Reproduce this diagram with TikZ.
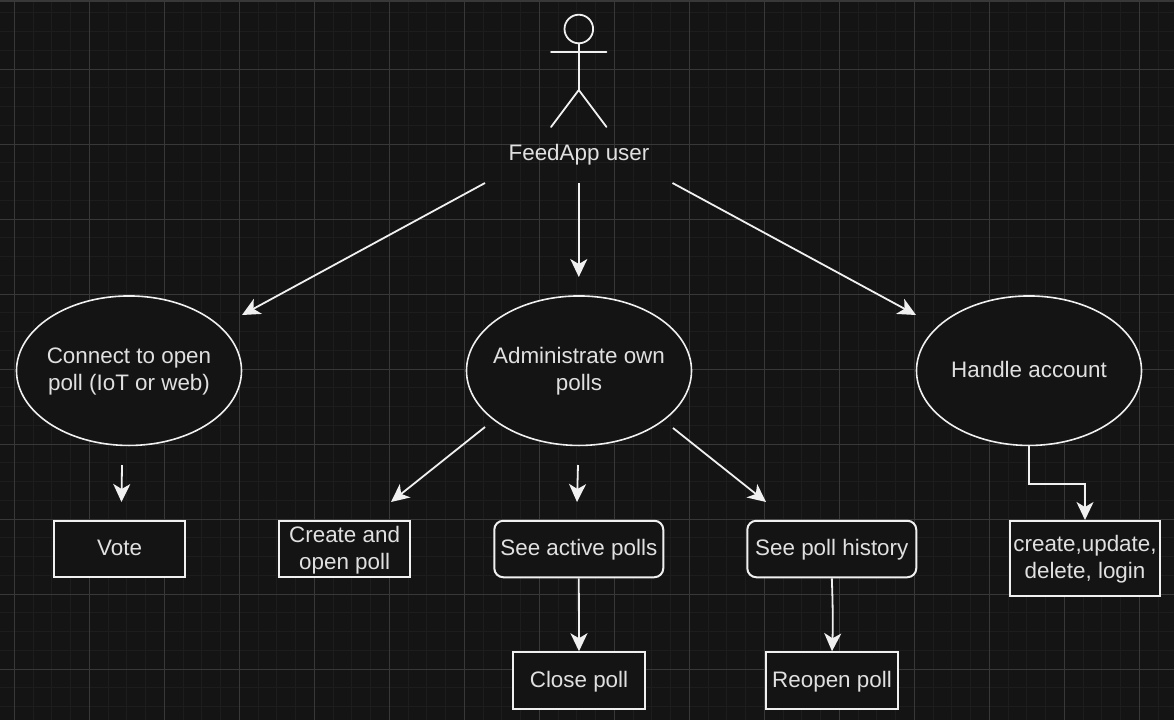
\documentclass[tikz,border=0pt]{standalone}
\usepackage{fontspec}
\setmainfont{Liberation Sans}
\usetikzlibrary{arrows.meta,shapes.geometric}
\definecolor{bgc}{HTML}{141414}
\definecolor{minorc}{HTML}{1D1D1D}
\definecolor{majorc}{HTML}{383838}
\definecolor{linec}{HTML}{F0F0F0}
\definecolor{txtc}{HTML}{E0E0E0}
\newcommand\ls{\rule[-7pt]{0pt}{27pt}}
\tikzset{
  shapeline/.style={draw=linec,line width=2pt,fill=bgc,text=txtc,align=center,inner sep=0pt,font=\fontsize{22.4}{27}\selectfont},
  oval/.style={shapeline,ellipse,line width=1.6pt,inner sep=-25pt,minimum width=225pt,minimum height=149.5pt},
  sqbox/.style={shapeline,rectangle,minimum width=131.6pt,minimum height=56.5pt},
  rbox/.style={shapeline,rectangle,rounded corners=9pt,minimum width=169pt,minimum height=56.5pt},
  conn/.style={draw=linec,line width=1.8pt,-{Stealth[length=18pt,width=17pt,inset=5pt]}},
  stick/.style={draw=linec,line width=1.8pt,line cap=round}
}
\begin{document}
\begin{tikzpicture}[x=1pt,y=-1pt]
\useasboundingbox (0,0) rectangle (1174,720);
\fill[bgc] (0,0) rectangle (1174,720);
\fill[majorc] (0,0) rectangle (1174,1.5);
\foreach \k in {0,...,62}{
  \draw[minorc,line width=0.9pt] ({14.4+18.75*\k},2) -- ({14.4+18.75*\k},720);
}
\foreach \k in {0,...,38}{
  \draw[minorc,line width=0.9pt] (0,{12.8+18.75*\k}) -- (1174,{12.8+18.75*\k});
}
\foreach \k in {0,...,15}{
  \draw[majorc,line width=0.9pt] ({14.4+75*\k},2) -- ({14.4+75*\k},720);
}
\foreach \k in {0,...,9}{
  \draw[majorc,line width=0.9pt] (0,{69.2+75*\k}) -- (1174,{69.2+75*\k});
}
% actor
\draw[stick] (578.8,29) circle (14.3);
\draw[stick] (578.8,43.3) -- (578.8,90);
\draw[stick] (551,52) -- (606.5,52);
\draw[stick] (551,127) -- (578.8,90) -- (606.5,127);
\node[text=txtc,font=\fontsize{22.4}{27}\selectfont,inner sep=0pt] (actor) at (579,153.5) {\ls FeedApp user};
% ovals
\node[oval] (connect) at (129,370.7) {\ls Connect to open\\\ls poll (IoT or web)};
\node[oval] (admin) at (579,370.7) {\ls Administrate own\\\ls polls};
\node[oval] (handle) at (1029,370.7) {\ls Handle account};
% boxes
\node[sqbox] (vote) at (119.6,549) {\ls Vote};
\node[sqbox] (create) at (344.6,549) {\ls Create and\\\ls open poll};
\node[rbox] (active) at (578.8,549) {\ls See active polls};
\node[rbox] (history) at (831.8,549) {\ls See poll history};
\node[sqbox] (close) at (579,680.5) {\ls Close poll};
\node[sqbox] (reopen) at (832,680.5) {\ls Reopen poll};
\node[sqbox,minimum width=150pt,minimum height=75pt] (account) at (1085,558.5) {\ls create,update,\\\ls delete, login};
% free ends
\coordinate (a1) at (485,183);
\coordinate (a2) at (578.8,183);
\coordinate (a3) at (672.5,183);
\coordinate (e1) at (242,315);
\coordinate (e2) at (578.8,277);
\coordinate (e3) at (916,315);
\coordinate (v1) at (122,465);
\coordinate (v2) at (121.5,502);
\coordinate (b1) at (485,427);
\coordinate (b2) at (391,502);
\coordinate (c1) at (578,465);
\coordinate (c2) at (577,502);
\coordinate (d1) at (673,428);
\coordinate (d2) at (766,502);
\coordinate (mid) at (1057,484);
% connectors
\draw[conn] (a1) -- (e1);
\draw[conn] (a2) -- (e2);
\draw[conn] (a3) -- (e3);
\draw[conn] (v1) -- (v2);
\draw[conn] (b1) -- (b2);
\draw[conn] (c1) -- (c2);
\draw[conn] (d1) -- (d2);
\draw[conn] (active.south) -- (close.north);
\draw[conn] (history.south) .. controls +(1,25) and +(1,-25) .. (reopen.north);
\draw[conn] (handle.south) |- (mid) -| (account.north);
\end{tikzpicture}
\end{document}
